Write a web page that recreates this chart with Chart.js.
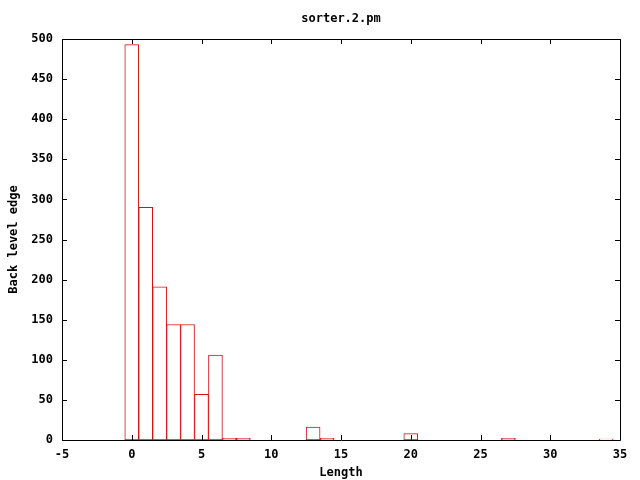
<!DOCTYPE html>
<html>
<head>
<meta charset="utf-8">
<script src="https://cdn.jsdelivr.net/npm/chart.js@4/dist/chart.umd.min.js"></script>
<style>
  html, body { margin: 0; padding: 0; background: #fff; }
  #wrap { width: 640px; height: 480px; }
</style>
</head>
<body>
<div id="wrap"><canvas id="c" width="640" height="480"></canvas></div>
<script>
// data
const chartTitle = "sorter.2.pm";
const lengths = [0, 1, 2, 3, 4, 5, 6, 7, 8, 13, 14, 20, 27, 34];
const counts = [493, 290, 191, 144, 144, 57, 106, 2, 2, 16, 2, 8, 2, 1];
const xTicks = [-5, 0, 5, 10, 15, 20, 25, 30, 35];
const yTicks = [0, 50, 100, 150, 200, 250, 300, 350, 400, 450, 500];

const FONT = "'DejaVu Sans Mono', monospace";
const RED = "#d81010";

// gnuplot style frame: box, inward ticks on all sides, title over the plot
const gnuFrame = {
    id: 'gnuFrame',
    afterDraw(chart) {
        const { ctx, chartArea: a, scales } = chart;
        ctx.save();
        ctx.strokeStyle = '#000';
        ctx.lineWidth = 1;
        ctx.beginPath();
        ctx.rect(Math.round(a.left) + 0.5, Math.round(a.top) + 0.5,
                 Math.round(a.right - a.left), Math.round(a.bottom - a.top));
        const len = 5;
        xTicks.forEach(v => {
            const x = Math.round(scales.x.getPixelForValue(v)) + 0.5;
            ctx.moveTo(x, a.bottom); ctx.lineTo(x, a.bottom - len);
            ctx.moveTo(x, a.top); ctx.lineTo(x, a.top + len);
        });
        yTicks.forEach(v => {
            const y = Math.round(scales.y.getPixelForValue(v)) + 0.5;
            ctx.moveTo(a.left, y); ctx.lineTo(a.left + len, y);
            ctx.moveTo(a.right, y); ctx.lineTo(a.right - len, y);
        });
        ctx.stroke();

        ctx.fillStyle = '#000';
        ctx.font = "bold 12px " + FONT;
        ctx.textAlign = 'center';
        ctx.textBaseline = 'middle';
        ctx.fillText(chartTitle, (a.left + a.right) / 2, 19);
        ctx.restore();
    }
};

new Chart(document.getElementById('c'), {
    type: 'bar',
    data: {
        datasets: [{
            data: lengths.map((x, i) => ({ x: x, y: counts[i] })),
            backgroundColor: '#fff',
            borderColor: RED,
            borderWidth: 1,
            borderSkipped: false,
            barPercentage: 1,
            categoryPercentage: 1
        }]
    },
    options: {
        responsive: false,
        animation: false,
        layout: { padding: { top: 39, right: 20, left: 0, bottom: 0 } },
        plugins: {
            legend: { display: false },
            tooltip: { enabled: false }
        },
        scales: {
            x: {
                type: 'linear',
                min: -5, max: 35,
                offset: false,
                grid: { display: false, offset: false, drawTicks: false },
                border: { display: false },
                afterBuildTicks: s => { s.ticks = xTicks.map(v => ({ value: v })); },
                afterFit: s => { s.height = 40; },
                ticks: {
                    color: '#000', padding: 8,
                    font: { family: FONT, size: 12, weight: 'bold' },
                    maxRotation: 0
                },
                title: {
                    display: true, text: 'Length', color: '#000',
                    font: { family: FONT, size: 12, weight: 'bold' },
                    padding: { top: 3, bottom: 0 }
                }
            },
            y: {
                min: 0, max: 500,
                grid: { display: false, drawTicks: false },
                border: { display: false },
                afterBuildTicks: s => { s.ticks = yTicks.map(v => ({ value: v })); },
                afterFit: s => { s.width = 62; },
                ticks: {
                    color: '#000', padding: 9,
                    font: { family: FONT, size: 12, weight: 'bold' }
                },
                title: {
                    display: true, text: 'Back level edge', color: '#000',
                    font: { family: FONT, size: 12, weight: 'bold' },
                    padding: { top: 7, bottom: 0 }
                }
            }
        }
    },
    plugins: [gnuFrame]
});
</script>
</body>
</html>
